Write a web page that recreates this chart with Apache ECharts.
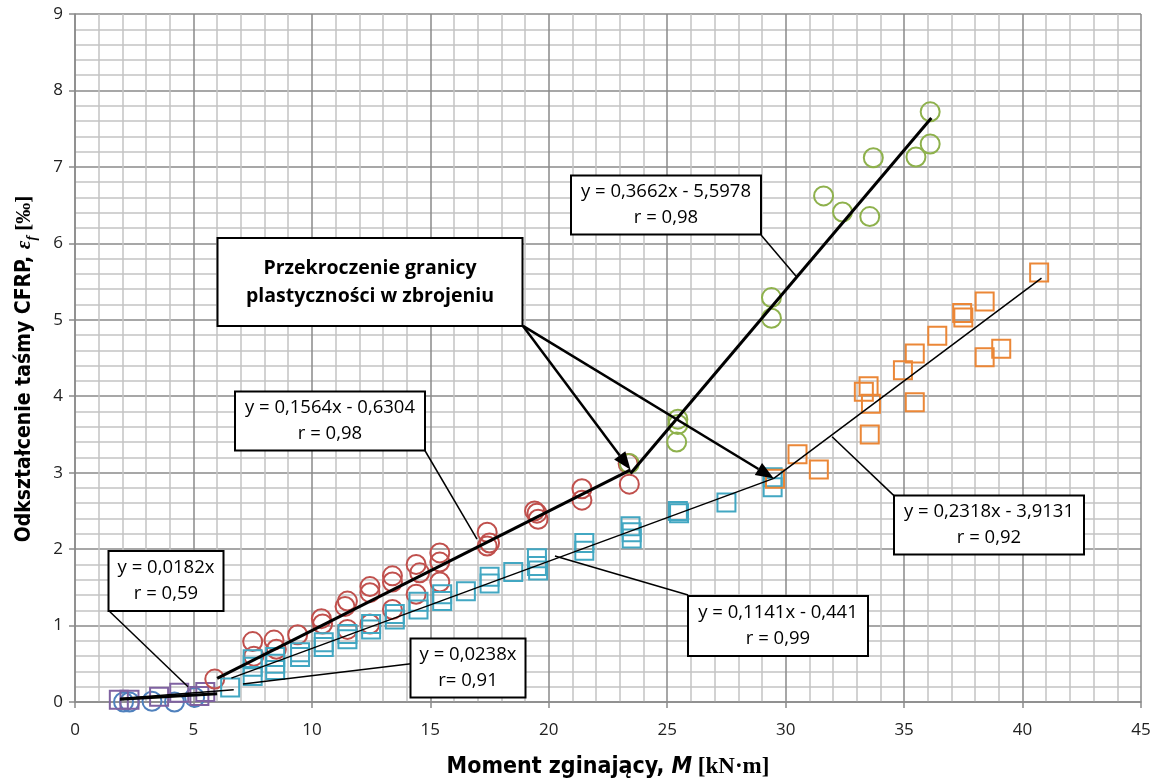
<!DOCTYPE html>
<html>
<head>
<meta charset="utf-8">
<script src="https://cdn.jsdelivr.net/npm/echarts@6/dist/echarts.min.js"></script>
<style>
  html, body { margin: 0; padding: 0; background: #ffffff; }
  #chart { width: 1162px; height: 784px; }
</style>
</head>
<body>
<div id="chart"></div>
<script>
// ---- axis ticks ----
const xTicks = [0, 5, 10, 15, 20, 25, 30, 35, 40, 45];
const yTicks = [0, 1, 2, 3, 4, 5, 6, 7, 8, 9];

// ---- measured points [M kN·m, strain ‰] ----
const blueCircles = [[2.05, 0.00], [2.3, 0.00], [3.25, 0.01], [4.2, 0.00], [5.05, 0.06]];
const purpleSquares = [[1.85, 0.03], [2.3, 0.03], [3.55, 0.07], [4.4, 0.12], [5.25, 0.08], [5.5, 0.13]];
const redCircles = [
  [5.9, 0.30], [7.5, 0.79], [7.55, 0.60], [8.4, 0.81], [8.5, 0.69], [9.4, 0.88],
  [10.4, 1.09], [10.45, 1.02], [11.5, 1.32], [11.4, 1.25], [11.5, 0.95],
  [12.45, 1.51], [12.45, 1.43], [12.45, 1.02], [13.4, 1.65], [13.4, 1.57], [13.4, 1.21],
  [14.4, 1.80], [14.55, 1.69], [14.4, 1.41], [15.4, 1.95], [15.4, 1.83], [15.4, 1.57],
  [17.4, 2.22], [17.5, 2.08], [17.4, 2.04], [19.4, 2.50], [19.5, 2.47], [19.55, 2.39],
  [21.4, 2.79], [21.4, 2.64], [23.4, 2.85], [23.35, 3.12]
];
const tealSquares = [
  [6.55, 0.19], [7.5, 0.56], [7.5, 0.46], [7.5, 0.34], [8.45, 0.59], [8.45, 0.50], [8.45, 0.42],
  [9.5, 0.65], [9.5, 0.59], [10.5, 0.78], [10.5, 0.72], [11.5, 0.89], [11.5, 0.82],
  [12.5, 1.02], [12.5, 0.95], [13.5, 1.15], [13.5, 1.08], [14.5, 1.31], [14.5, 1.21],
  [15.5, 1.41], [15.5, 1.32], [16.5, 1.45], [17.5, 1.64], [17.5, 1.55], [18.5, 1.70],
  [19.5, 1.88], [19.5, 1.78], [19.55, 1.72], [21.5, 2.08], [21.5, 1.98],
  [23.45, 2.30], [23.5, 2.22], [23.5, 2.14], [25.45, 2.50], [25.5, 2.47], [27.5, 2.61],
  [29.45, 2.94], [29.45, 2.81]
];
const greenCircles = [
  [23.4, 3.12], [25.45, 3.70], [25.45, 3.63], [25.4, 3.40], [29.4, 5.29], [29.4, 5.02],
  [31.6, 6.62], [32.4, 6.41], [33.55, 6.35], [33.7, 7.12], [35.5, 7.13], [36.1, 7.30], [36.1, 7.72]
];
const orangeSquares = [
  [29.55, 2.92], [30.5, 3.24], [31.4, 3.04], [33.3, 4.06], [33.5, 4.13], [33.6, 3.90], [33.55, 3.50],
  [34.95, 4.34], [35.45, 4.56], [35.45, 3.92], [36.4, 4.79], [37.45, 5.09], [37.5, 5.03],
  [38.4, 5.24], [38.4, 4.51], [39.1, 4.62], [40.7, 5.62]
];

// ---- linear fits y = a·x + b over [from, to] ----
const trendSlope     = [0.0182, 0.0238, 0.1564, 0.1141, 0.3662, 0.2318];
const trendIntercept = [0, 0, -0.6304, -0.441, -5.5978, -3.9131];
const trendFrom      = [1.9, 1.9, 6.0, 6.6, 23.45, 29.5];
const trendTo        = [6.0, 6.7, 23.45, 29.5, 36.15, 40.8];
const trendRLabel    = ['r = 0,59', 'r= 0,91', 'r = 0,98', 'r = 0,99', 'r = 0,98', 'r = 0,92'];

const yieldNote = ['Przekroczenie granicy', 'plastyczności w zbrojeniu'];

// ---- styling ----
const trendWidth = [3, 1.5, 3, 1.5, 3, 1.5];
const majorGrid = '#8a8a8a';
const minorGrid = '#c4c4c4';
const boxFont = '18.5px "Open Sans", "Noto Sans", sans-serif';
const noteFont = 'bold 19.5px "Open Sans", "Noto Sans", sans-serif';
const titleFont = '"Liberation Sans Narrow", "DejaVu Sans Condensed", sans-serif';

// label boxes: centre in data units, size in px, leader from (sx,sy) to (ex,ey) in data units
const boxLayout = [
  { cx: 3.86, cy: 1.58, w: 115, h: 60, sx: 1.44, sy: 1.19, ex: 4.77, ey: 0.20 },
  { cx: 16.61, cy: 0.44, w: 115, h: 59, sx: 14.18, sy: 0.50, ex: 7.09, ey: 0.235 },
  { cx: 10.76, cy: 3.68, w: 190, h: 59, sx: 14.77, sy: 3.29, ex: 16.97, ey: 2.13 },
  { cx: 29.68, cy: 0.99, w: 180, h: 60, sx: 25.88, sy: 1.40, ex: 20.26, ey: 1.91 },
  { cx: 24.95, cy: 6.50, w: 190, h: 59, sx: 28.96, sy: 6.11, ex: 30.44, ey: 5.57 },
  { cx: 38.58, cy: 2.32, w: 190, h: 59, sx: 34.57, sy: 2.70, ex: 31.96, ey: 3.47 }
];
const noteLayout = { cx: 12.47, cy: 5.50, w: 305, h: 88, sx: 18.91, sy: 4.92 };

function fmt(v) { return String(v).replace('.', ','); }
function equation(i) {
  const a = 'y = ' + fmt(trendSlope[i]) + 'x';
  const b = trendIntercept[i];
  if (b === 0) return a;
  return a + (b < 0 ? ' - ' : ' + ') + fmt(Math.abs(b));
}

const chart = echarts.init(document.getElementById('chart'), null, { renderer: 'canvas' });

function scatter(name, data, symbol, size, color) {
  return {
    name: name, type: 'scatter', data: data, symbol: symbol, symbolSize: size, z: 3,
    itemStyle: { color: 'rgba(0,0,0,0)', borderColor: color, borderWidth: 2, opacity: 1 },
    emphasis: { disabled: true }, silent: true
  };
}

const trendSeries = trendSlope.map((a, i) => ({
  type: 'line', z: 5, silent: true, symbol: 'none',
  data: [[trendFrom[i], a * trendFrom[i] + trendIntercept[i]], [trendTo[i], a * trendTo[i] + trendIntercept[i]]],
  lineStyle: { color: '#000', width: trendWidth[i] }
}));

const axisCommon = {
  type: 'value',
  axisLine: { show: true, onZero: false, lineStyle: { color: majorGrid, width: 1.5 } },
  axisTick: { show: true, inside: false, length: 6, lineStyle: { color: majorGrid, width: 1.5 } },
  splitLine: { show: true, lineStyle: { color: majorGrid, width: 1.5 } },
  minorTick: { show: false, splitNumber: 5 },
  minorSplitLine: { show: true, lineStyle: { color: minorGrid, width: 1.5 } }
};

chart.setOption({
  animation: false,
  backgroundColor: '#ffffff',
  grid: { left: 75, right: 21, top: 14, bottom: 81, containLabel: false, show: false },
  xAxis: Object.assign({}, axisCommon, {
    min: xTicks[0], max: xTicks[xTicks.length - 1], interval: xTicks[1] - xTicks[0],
    axisLabel: { margin: 20, fontSize: 17, color: '#222', fontFamily: '"Liberation Sans Narrow", "Open Sans", sans-serif',
      showMinLabel: true, showMaxLabel: true },
    name: '{b|Moment zginający, }{i|M}{s| [kN·m]}',
    nameLocation: 'middle', nameGap: 54,
    nameTextStyle: {
      rich: {
        b: { fontFamily: titleFont, fontWeight: 'bold', fontSize: 23, color: '#000' },
        i: { fontFamily: titleFont, fontWeight: 'bold', fontStyle: 'italic', fontSize: 23, color: '#000' },
        s: { fontFamily: '"Liberation Serif", serif', fontWeight: 'bold', fontSize: 23, color: '#000' }
      }
    }
  }),
  yAxis: Object.assign({}, axisCommon, {
    min: yTicks[0], max: yTicks[yTicks.length - 1], interval: yTicks[1] - yTicks[0],
    axisLabel: { margin: 12, fontSize: 17, color: '#222', fontFamily: '"Open Sans", sans-serif',
      showMinLabel: true, showMaxLabel: true },
    name: '{b|Odkształcenie taśmy CFRP, }{e|ε}{f|f}{s| [‰]}',
    nameLocation: 'middle', nameGap: 40, nameRotate: 90,
    nameTextStyle: {
      padding: [0, 22, 0, 0],
      rich: {
        b: { fontFamily: titleFont, fontWeight: 'bold', fontSize: 21, color: '#000', verticalAlign: 'bottom' },
        e: { fontFamily: '"Liberation Serif", serif', fontWeight: 'bold', fontStyle: 'italic', fontSize: 21, color: '#000', verticalAlign: 'bottom' },
        f: { fontFamily: '"Liberation Serif", serif', fontWeight: 'bold', fontStyle: 'italic', fontSize: 14, color: '#000', verticalAlign: 'bottom', padding: [0, 0, -4, 0] },
        s: { fontFamily: '"Liberation Serif", serif', fontWeight: 'bold', fontSize: 21, color: '#000', verticalAlign: 'bottom' }
      }
    }
  }),
  series: [
    scatter('a', blueCircles, 'circle', 19, '#4f81bd'),
    scatter('b', purpleSquares, 'rect', 18, '#7f62a1'),
    scatter('c', redCircles, 'circle', 19, '#c0504d'),
    scatter('d', tealSquares, 'rect', 18, '#42a7c2'),
    scatter('e', greenCircles, 'circle', 19, '#8eb14c'),
    scatter('f', orangeSquares, 'rect', 18, '#eb8737')
  ].concat(trendSeries)
});

// ---- annotation boxes, leaders and arrows ----
function px(x, y) { return chart.convertToPixel({ gridIndex: 0 }, [x, y]); }

function box(cx, cy, w, h, lines, font, lineHeight) {
  const c = px(cx, cy);
  return {
    type: 'group', x: Math.round(c[0]), y: Math.round(c[1]), z: 100,
    children: [
      { type: 'rect', z: 100, shape: { x: -w / 2, y: -h / 2, width: w, height: h },
        style: { fill: '#ffffff', stroke: '#000000', lineWidth: 2 } },
      { type: 'text', z: 101, style: { text: lines.join('\n'), x: 0, y: 0, align: 'center', verticalAlign: 'middle',
        font: font, lineHeight: lineHeight, fill: '#000000' } }
    ]
  };
}
function leader(sx, sy, ex, ey, width) {
  const s = px(sx, sy), e = px(ex, ey);
  return { type: 'line', z: 99, shape: { x1: s[0], y1: s[1], x2: e[0], y2: e[1] },
    style: { stroke: '#000000', lineWidth: width } };
}
function arrow(s, e) {
  const dx = e[0] - s[0], dy = e[1] - s[1];
  const len = Math.sqrt(dx * dx + dy * dy);
  const ux = dx / len, uy = dy / len;
  const L = 18, W = 7;
  const bx = e[0] - ux * L, by = e[1] - uy * L;
  return [
    { type: 'line', z: 99, shape: { x1: s[0], y1: s[1], x2: bx, y2: by }, style: { stroke: '#000', lineWidth: 2.5 } },
    { type: 'polygon', z: 99, shape: { points: [[e[0], e[1]], [bx - uy * W, by + ux * W], [bx + uy * W, by - ux * W]] },
      style: { fill: '#000' } }
  ];
}

const graphics = [];
boxLayout.forEach((b, i) => {
  graphics.push(leader(b.sx, b.sy, b.ex, b.ey, 1.5));
  graphics.push(box(b.cx, b.cy, b.w, b.h, [equation(i), trendRLabel[i]], boxFont, 26));
});
// the yield arrows point at the ends of the pre-yield fits
const noteStart = px(noteLayout.sx, noteLayout.sy);
[2, 3].forEach(i => {
  const tip = px(trendTo[i], trendSlope[i] * trendTo[i] + trendIntercept[i]);
  arrow(noteStart, tip).forEach(g => graphics.push(g));
});
graphics.push(box(noteLayout.cx, noteLayout.cy, noteLayout.w, noteLayout.h, yieldNote, noteFont, 28));

chart.setOption({ graphic: graphics });
</script>
</body>
</html>
